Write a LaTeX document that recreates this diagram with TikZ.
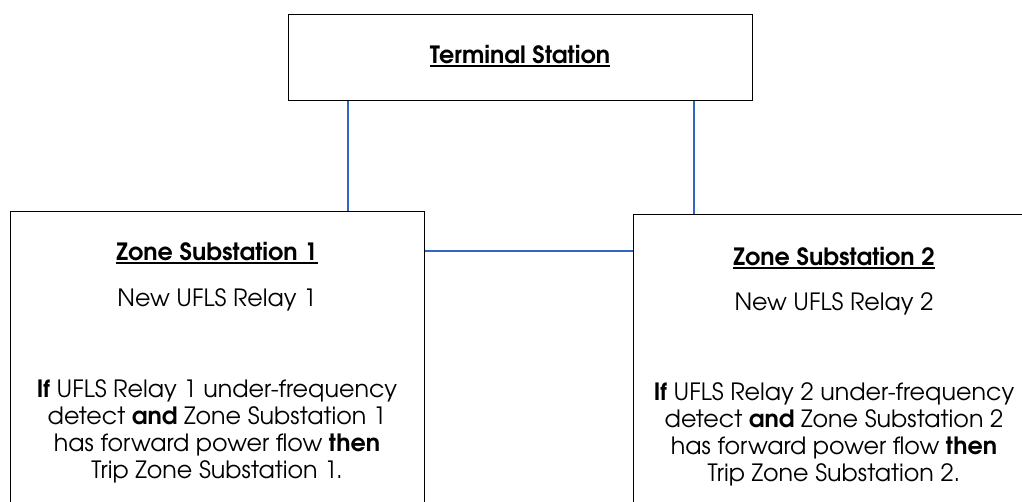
\documentclass[tikz,border=0pt]{standalone}
\usepackage{fontspec}
\setmainfont{texgyreadventor}[Extension=.otf, UprightFont=*-regular, BoldFont=*-bold, ItalicFont=*-italic, BoldItalicFont=*-bolditalic]
\usepackage{tikz}
\definecolor{linkblue}{HTML}{2F66C0}
\newcommand{\ulbox}[1]{\setbox0\hbox{#1}\rlap{\rule[-4pt]{\wd0}{2.2pt}}\box0}
\tikzset{
    station/.style={rectangle, draw=black, line width=1pt, fill=white, inner sep=0pt},
    title/.style={font=\fontsize{23.8}{27}\selectfont\bfseries, anchor=base, inner sep=0pt},
    body/.style={font=\fontsize{23.8}{27}\selectfont, align=center, anchor=base, inner sep=0pt},
    link/.style={draw=linkblue, line width=1.2pt}
}

\begin{document}
\begin{tikzpicture}[x=1pt, y=-1pt]
        \useasboundingbox (0,0) rectangle (1022,501);
        \clip (0,0) rectangle (1022,501);

        % Terminal station
        \node[station, minimum width=464pt, minimum height=86pt] (TS) at (520,57) {};
        \node[title] (TSname) at (520,63) {\ulbox{Terminal Station}};

        % Zone substations
        \node[station, anchor=north west, minimum width=414pt, minimum height=320pt] (ZS1) at (10,211) {};
        \node[station, anchor=north west, minimum width=402pt, minimum height=320pt] (ZS2) at (633,214) {};

        % Zone Substation 1 text
        \node[title] (ZS1name) at (217,260) {\ulbox{Zone Substation 1}};
        \node[body] (ZS1relay) at (217,306) {New UFLS Relay 1};
        \node[body] (ZS1logic) at (217,478) {\textbf{If} UFLS Relay 1 under-frequency\\detect \textbf{and} Zone Substation 1\\has forward power flow \textbf{then}\\Trip Zone Substation 1.};

        % Zone Substation 2 text
        \node[title] (ZS2name) at (834,265) {\ulbox{Zone Substation 2}};
        \node[body] (ZS2relay) at (834,310) {New UFLS Relay 2};
        \node[body] (ZS2logic) at (834,481) {\textbf{If} UFLS Relay 2 under-frequency\\detect \textbf{and} Zone Substation 2\\has forward power flow \textbf{then}\\Trip Zone Substation 2.};

        % Connections
        \draw[link] (TS.south -| 348,0) -- (ZS1.north -| 348,0);
        \draw[link] (TS.south -| 694,0) -- (ZS2.north -| 694,0);
        \draw[link] (ZS1.east |- 0,251) -- (ZS2.west |- 0,251);

    \end{tikzpicture}
\end{document}
